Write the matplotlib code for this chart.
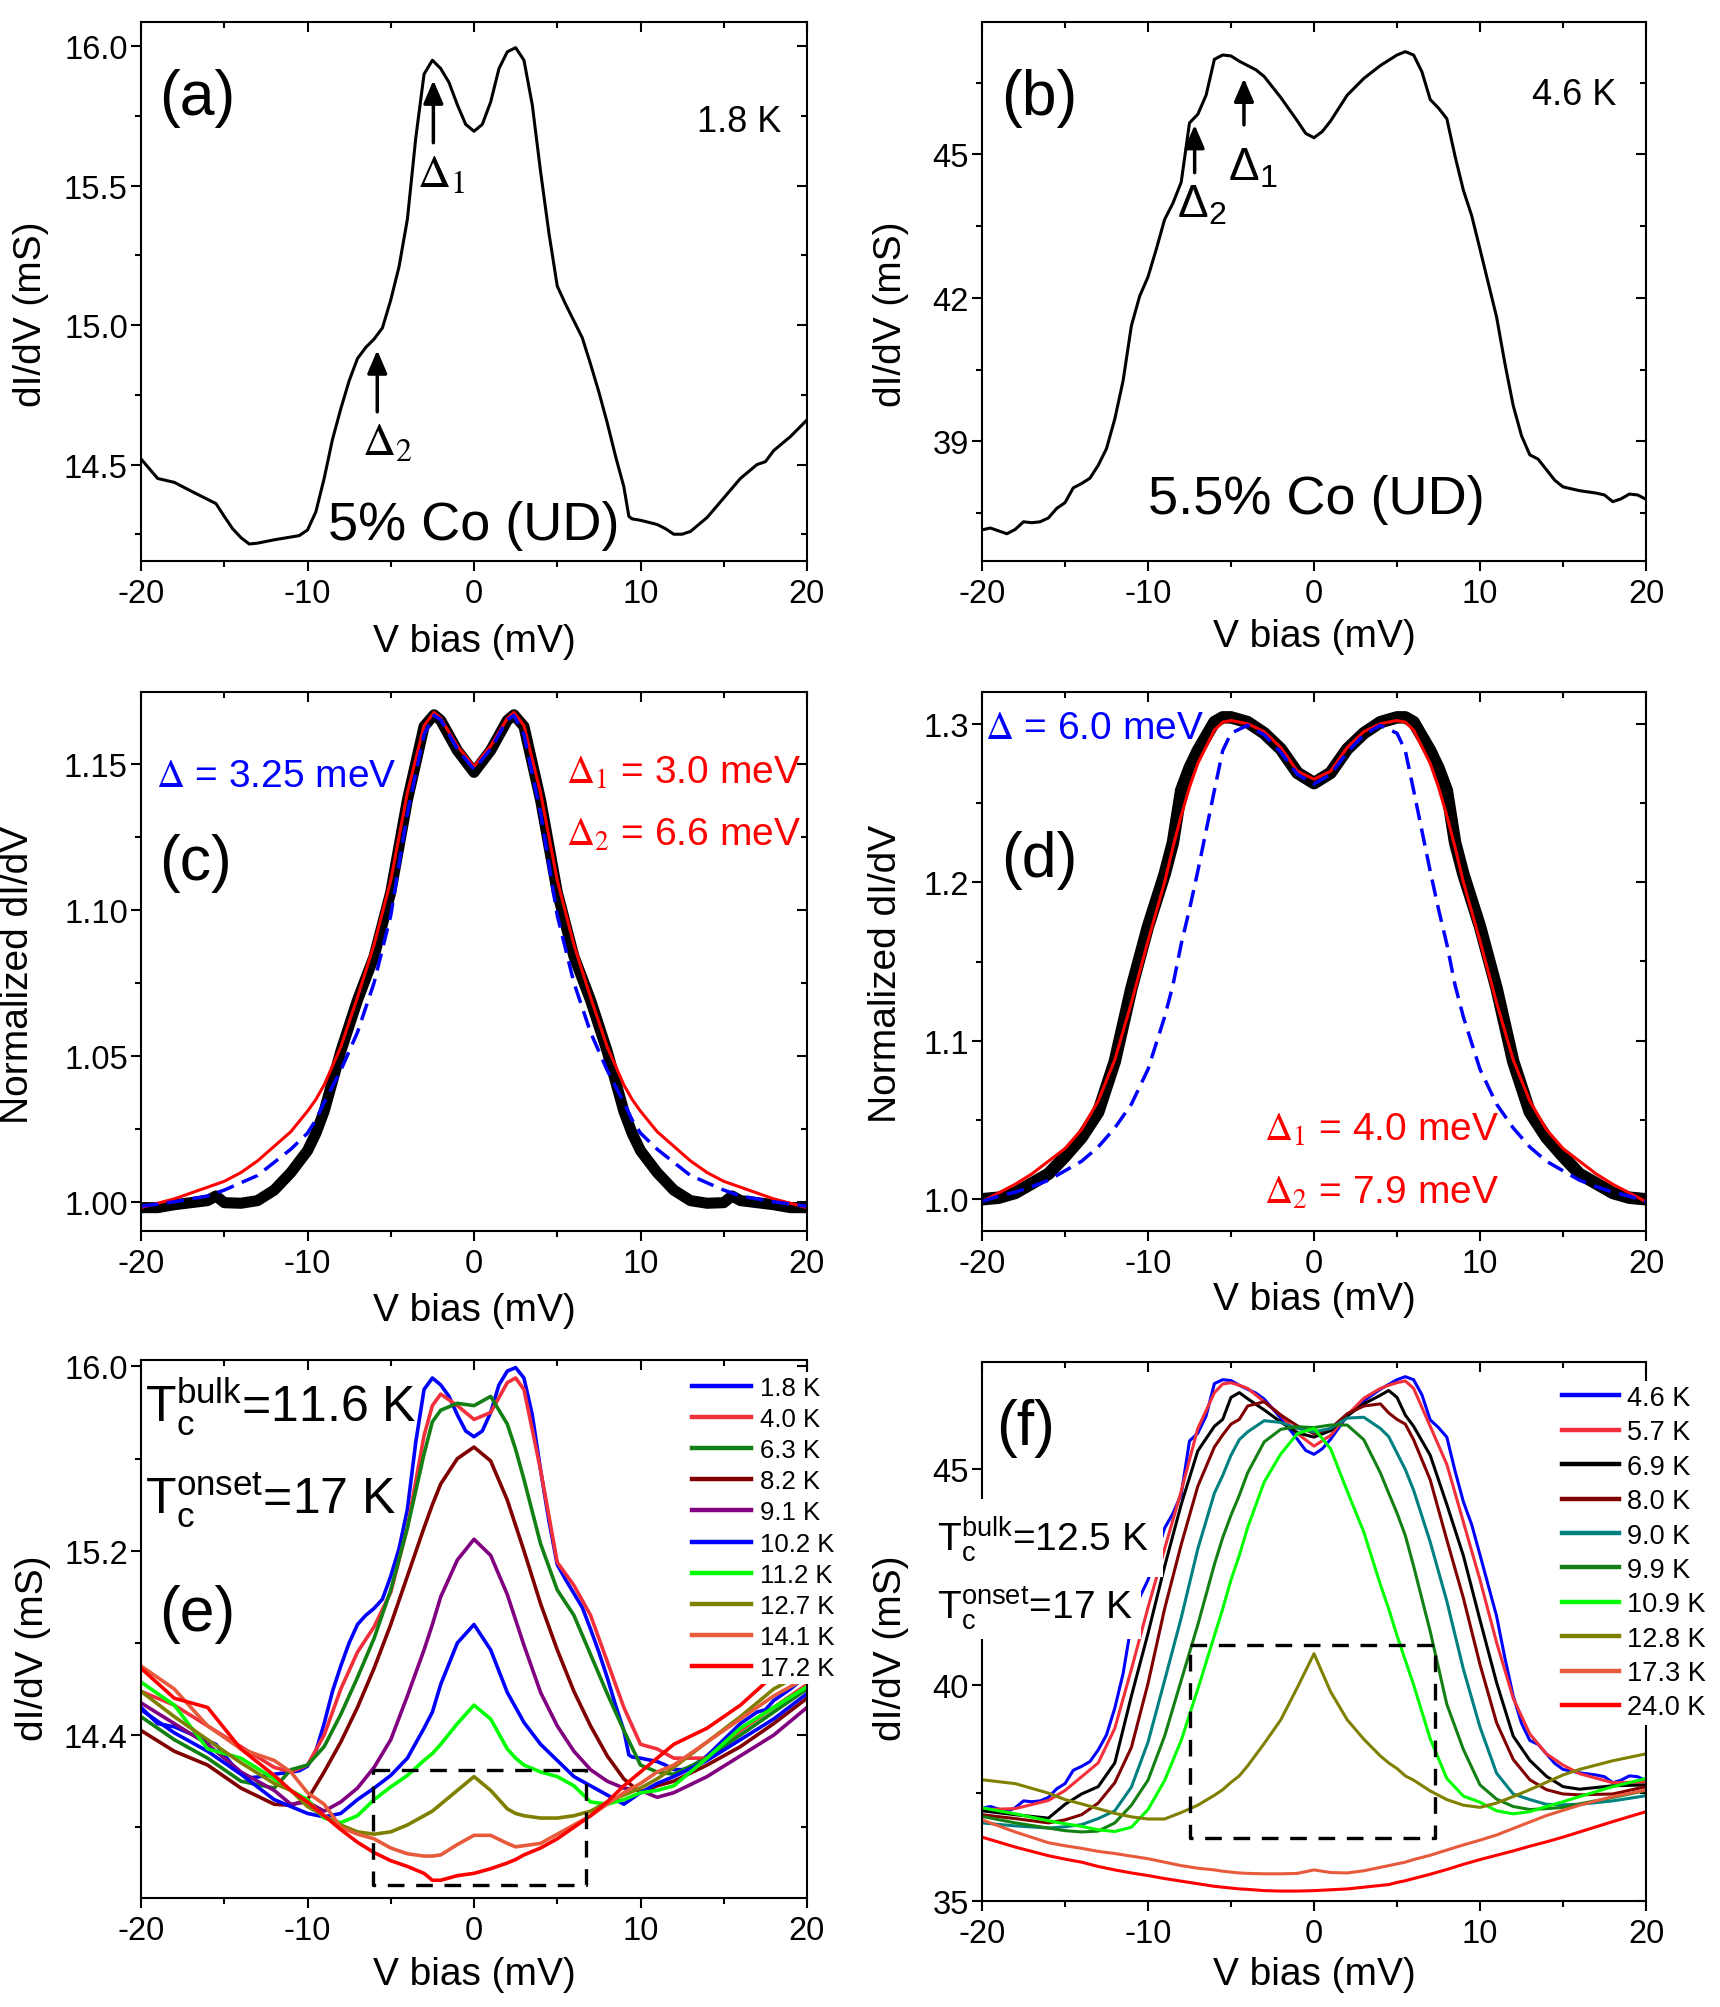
import matplotlib
matplotlib.use("Agg")
import matplotlib.pyplot as plt
from matplotlib.ticker import MultipleLocator, FormatStrFormatter

plt.rcParams["font.family"] = ["Liberation Sans", "DejaVu Sans"]
plt.rcParams["mathtext.fontset"] = "custom"
plt.rcParams["mathtext.rm"] = "Liberation Sans"
plt.rcParams["mathtext.it"] = "Liberation Sans:italic"
plt.rcParams["mathtext.bf"] = "Liberation Sans:bold"
plt.rcParams["axes.unicode_minus"] = False

# ---- (a) 5% Co, 1.8 K
a_x = [-20, -19, -18, -17, -16, -15.5, -15, -14.5, -14, -13.5, -13, -12, -11, -10.5, -10, -9.5, -9, -8.5, -8, -7.5,
       -7, -6.5, -6, -5.5, -5, -4.5, -4, -3.5, -3, -2.5, -2, -1.5, -1, -0.5, 0, 0.5, 1, 1.5, 2, 2.5,
       3, 3.5, 4, 4.5, 5, 5.5, 6, 6.5, 7, 7.5, 8, 8.5, 9, 9.3, 9.5, 10, 11, 11.5, 12, 12.5,
       13, 14, 15, 16, 17, 17.5, 18, 19, 20]
a_y = [14.52, 14.45, 14.436, 14.405, 14.375, 14.36, 14.314, 14.27, 14.238, 14.215, 14.218, 14.23, 14.24, 14.245,
       14.265, 14.33, 14.45, 14.59, 14.70, 14.80, 14.88, 14.92, 14.95, 14.99, 15.09, 15.21, 15.38, 15.67, 15.90,
       15.95, 15.92, 15.87, 15.79, 15.72, 15.695, 15.72, 15.80, 15.92, 15.98, 15.995, 15.95, 15.79, 15.55, 15.33,
       15.14, 15.075, 15.015, 14.955, 14.86, 14.76, 14.65, 14.53, 14.42, 14.314, 14.305, 14.30, 14.285, 14.27,
       14.25, 14.25, 14.26, 14.31, 14.38, 14.45, 14.50, 14.51, 14.55, 14.60, 14.66]

# ---- (b) 5.5% Co, 4.6 K
b_x = [-20, -19.5, -19, -18.5, -18, -17.5, -17, -16.5, -16, -15.5, -15, -14.5, -14, -13.5, -13, -12.5, -12, -11.5,
       -11, -10.5, -10, -9.5, -9, -8.5, -8, -7.5, -7, -6.5, -6, -5.5, -5, -4.5, -4, -3.5, -3, -2, -1, -0.5, 0, 0.5,
       1, 2, 3, 4, 5, 5.5, 6, 6.5, 7, 7.5, 8, 8.5, 9, 9.5, 10, 10.5, 11, 11.5, 12, 12.5, 13, 13.5, 14, 14.5, 15,
       16, 17, 17.5, 18, 18.5, 19, 19.5, 20]
b_y = [37.15, 37.19, 37.13, 37.07, 37.16, 37.32, 37.30, 37.32, 37.40, 37.60, 37.72, 38.03, 38.12, 38.23, 38.50,
       38.85, 39.47, 40.27, 41.42, 42.04, 42.44, 43.02, 43.64, 43.98, 44.42, 45.66, 45.84, 46.24, 46.99, 47.08,
       47.06, 46.95, 46.86, 46.77, 46.63, 46.19, 45.70, 45.44, 45.35, 45.48, 45.70, 46.24, 46.59, 46.86, 47.08,
       47.15, 47.08, 46.73, 46.15, 45.97, 45.75, 44.96, 44.25, 43.72, 43.02, 42.31, 41.60, 40.63, 39.75, 39.12,
       38.72, 38.63, 38.41, 38.19, 38.05, 37.97, 37.92, 37.88, 37.74, 37.80, 37.90, 37.88, 37.79]

# ---- (c) normalized 5% Co: data, two-gap fit, one-gap fit
c_x = [-20, -19, -18, -17, -16, -15.5, -15, -14, -13, -12, -11, -10, -9.5, -9, -8, -7, -6, -5, -4, -3, -2.4, -2, -1,
       0, 1, 2, 2.4, 3, 4, 5, 6, 7, 8, 9, 9.5, 10, 11, 12, 13, 14, 15, 15.5, 16, 17, 18, 19, 20]
c_data = [0.998, 0.998, 0.999, 0.9997, 1.0004, 1.002, 0.9997, 0.9995, 1.0004, 1.004, 1.010, 1.0175, 1.0234, 1.031,
          1.0515, 1.069, 1.084, 1.106, 1.1375, 1.1627, 1.1667, 1.1648, 1.1545, 1.147,
          1.1545, 1.1648, 1.1667, 1.1627, 1.1375, 1.106, 1.084, 1.069, 1.0515, 1.031, 1.0234, 1.0175, 1.010, 1.004,
          1.0004, 0.9995, 0.9997, 1.002, 1.0004, 0.9997, 0.999, 0.998, 0.998]
c_two_gap = [0.998, 0.9995, 1.001, 1.003, 1.005, 1.006, 1.007, 1.010, 1.014, 1.019, 1.024, 1.031, 1.035, 1.040,
             1.053, 1.070, 1.088, 1.110, 1.140, 1.163, 1.1675, 1.1655, 1.156, 1.149,
             1.156, 1.1655, 1.1675, 1.163, 1.140, 1.110, 1.088, 1.070, 1.053, 1.040, 1.035, 1.031, 1.024, 1.019,
             1.014, 1.010, 1.007, 1.006, 1.005, 1.003, 1.001, 0.9995, 0.998]
c_one_gap = [0.9985, 0.9992, 1.0, 1.001, 1.002, 1.003, 1.004, 1.0065, 1.009, 1.0135, 1.018, 1.0235, 1.028, 1.034,
             1.045, 1.058, 1.075, 1.098, 1.133, 1.160, 1.1665, 1.165, 1.155, 1.148,
             1.155, 1.165, 1.1665, 1.160, 1.133, 1.098, 1.075, 1.058, 1.045, 1.034, 1.028, 1.0235, 1.018, 1.0135,
             1.009, 1.0065, 1.004, 1.003, 1.002, 1.001, 1.0, 0.9992, 0.9985]

# ---- (d) normalized 5.5% Co
d_x = [-20, -19, -18, -17, -16, -15, -14, -13, -12, -11, -10, -9, -8.5, -8, -7.5, -7, -6, -5.5, -5, -4, -3, -2, -1,
       0, 1, 2, 3, 4, 5, 5.5, 6, 7, 7.5, 8, 8.5, 9, 10, 11, 12, 13, 14, 15, 16, 17, 18, 19, 20]
d_data = [1.0, 1.001, 1.004, 1.01, 1.016, 1.027, 1.039, 1.055, 1.087, 1.133, 1.172, 1.205, 1.225, 1.258, 1.272,
          1.283, 1.301, 1.304, 1.304, 1.301, 1.294, 1.284, 1.269, 1.2625,
          1.269, 1.284, 1.294, 1.301, 1.304, 1.304, 1.301, 1.283, 1.272, 1.258, 1.225, 1.205, 1.172, 1.133, 1.087,
          1.055, 1.039, 1.027, 1.016, 1.01, 1.004, 1.001, 1.0]
d_two_gap = [0.9985, 1.004, 1.0095, 1.016, 1.024, 1.032, 1.044, 1.062, 1.088, 1.124, 1.163, 1.200, 1.222, 1.242,
             1.260, 1.275, 1.296, 1.301, 1.302, 1.300, 1.295, 1.285, 1.270, 1.265,
             1.270, 1.285, 1.295, 1.300, 1.302, 1.301, 1.296, 1.275, 1.260, 1.242, 1.222, 1.200, 1.163, 1.124, 1.088,
             1.062, 1.044, 1.032, 1.024, 1.016, 1.0095, 1.004, 0.9985]
d_one_gap = [0.9986, 1.002, 1.0045, 1.008, 1.012, 1.018, 1.024, 1.033, 1.045, 1.060, 1.082, 1.115, 1.135, 1.161,
             1.183, 1.207, 1.258, 1.283, 1.294, 1.299, 1.293, 1.282, 1.268, 1.262,
             1.268, 1.282, 1.293, 1.299, 1.294, 1.283, 1.258, 1.207, 1.183, 1.161, 1.135, 1.115, 1.082, 1.060, 1.045,
             1.033, 1.024, 1.018, 1.012, 1.008, 1.0045, 1.002, 0.9986]

# ---- (e) 5% Co temperature series (1.8 K is the curve of panel a)
e_x = [-20, -18, -16, -14, -12, -11, -10, -9, -8, -7, -6, -5, -4, -3, -2.5, -2, -1, 0, 1, 2, 2.5, 3, 4, 5, 6, 7, 8,
       9, 10, 11, 12, 14, 16, 18, 20]
e_4p0 = [14.59, 14.53, 14.44, 14.35, 14.26, 14.24, 14.27, 14.40, 14.60, 14.76, 14.87, 15.02, 15.30, 15.70, 15.83,
         15.88, 15.83, 15.77, 15.80, 15.93, 15.95, 15.90, 15.55, 15.15, 15.05, 14.92, 14.72, 14.52, 14.36, 14.34,
         14.30, 14.30, 14.42, 14.52, 14.62]
e_6p3 = [14.48, 14.38, 14.30, 14.20, 14.17, 14.25, 14.27, 14.35, 14.49, 14.65, 14.82, 15.03, 15.30, 15.62, 15.76,
         15.81, 15.84, 15.83, 15.87, 15.75, 15.64, 15.51, 15.23, 15.03, 14.92, 14.75, 14.58, 14.42, 14.27, 14.24,
         14.23, 14.30, 14.40, 14.50, 14.60]
e_8p2 = [14.42, 14.33, 14.27, 14.17, 14.10, 14.095, 14.12, 14.24, 14.37, 14.52, 14.69, 14.88, 15.09, 15.30, 15.40,
         15.49, 15.60, 15.65, 15.59, 15.42, 15.31, 15.20, 14.97, 14.77, 14.59, 14.44, 14.31, 14.21, 14.15, 14.18,
         14.20, 14.27, 14.35, 14.45, 14.56]
e_9p1 = [14.54, 14.45, 14.36, 14.24, 14.16, 14.10, 14.11, 14.07, 14.11, 14.17, 14.26, 14.38, 14.57, 14.77, 14.88,
         15.00, 15.16, 15.25, 15.18, 15.01, 14.90, 14.79, 14.585, 14.44, 14.33, 14.25, 14.20, 14.17, 14.16, 14.13,
         14.15, 14.22, 14.31, 14.40, 14.52]
e_10p2 = [14.51, 14.41, 14.33, 14.23, 14.12, 14.09, 14.06, 14.045, 14.06, 14.12, 14.17, 14.225, 14.30, 14.43, 14.50,
          14.62, 14.80, 14.88, 14.77, 14.585, 14.52, 14.455, 14.36, 14.29, 14.22, 14.18, 14.14, 14.10, 14.15, 14.19,
          14.22, 14.29, 14.38, 14.47, 14.58]
e_11p2 = [14.63, 14.53, 14.34, 14.30, 14.21, 14.16, 14.12, 14.04, 14.02, 14.05, 14.12, 14.175, 14.225, 14.29, 14.32,
          14.36, 14.45, 14.53, 14.47, 14.34, 14.30, 14.27, 14.24, 14.22, 14.18, 14.11, 14.10, 14.12, 14.15, 14.16,
          14.18, 14.30, 14.43, 14.52, 14.61]
e_12p7 = [14.59, 14.48, 14.38, 14.28, 14.19, 14.16, 14.09, 14.05, 14.01, 13.98, 13.97, 13.98, 14.01, 14.05, 14.07,
          14.10, 14.16, 14.22, 14.16, 14.08, 14.06, 14.05, 14.04, 14.04, 14.05, 14.07, 14.11, 14.14, 14.17, 14.21,
          14.26, 14.37, 14.48, 14.60, 14.68]
e_14p1 = [14.70, 14.60, 14.44, 14.34, 14.29, 14.24, 14.15, 14.10, 14.00, 13.97, 13.95, 13.91, 13.885, 13.875, 13.875,
          13.88, 13.925, 13.965, 13.965, 13.93, 13.915, 13.92, 13.93, 13.97, 14.01, 14.05, 14.10, 14.15, 14.19, 14.24,
          14.27, 14.37, 14.47, 14.57, 14.65]
e_17p2 = [14.69, 14.56, 14.52, 14.34, 14.225, 14.16, 14.11, 14.05, 13.99, 13.935, 13.89, 13.855, 13.83, 13.80, 13.77,
          13.77, 13.79, 13.80, 13.82, 13.845, 13.86, 13.88, 13.91, 13.95, 14.00, 14.05, 14.11, 14.18, 14.24, 14.30,
          14.36, 14.43, 14.53, 14.66, 14.74]
e_labels = ["1.8 K", "4.0 K", "6.3 K", "8.2 K", "9.1 K", "10.2 K", "11.2 K", "12.7 K", "14.1 K", "17.2 K"]
e_colors = ["#0000ff", "#f2303c", "#138013", "#800000", "#800080", "#0000ff", "#00ff00", "#808000", "#e85a3c", "#ff0000"]

# ---- (f) 5.5% Co temperature series (4.6 K is the curve of panel b)
f_x = [-20, -18, -16, -15, -14, -13, -12, -11, -10, -9, -8, -7, -6, -5.5, -5, -4.5, -4, -3, -2, -1, 0, 1, 2, 3, 4,
       4.5, 5, 5.5, 6, 7, 8, 9, 10, 11, 12, 13, 14, 15, 16, 18, 20]
f_5p7 = [37.12, 37.14, 37.33, 37.56, 37.88, 38.20, 39.0, 40.37, 41.80, 43.16, 44.50, 45.95, 46.78, 46.98, 47.01,
         46.95, 46.88, 46.57, 46.26, 45.83, 45.54, 45.79, 46.26, 46.65, 46.88, 46.95, 47.01, 47.05, 46.88, 46.0,
         45.12, 43.78, 42.44, 40.99, 39.70, 38.87, 38.41, 38.15, 37.95, 37.74, 37.76]
f_6p9 = [37.09, 37.0, 36.92, 37.24, 37.48, 37.65, 38.2, 39.75, 41.2, 42.75, 44.19, 45.43, 46.0, 46.16, 46.67, 46.78,
         46.64, 46.38, 46.10, 45.85, 45.75, 45.90, 46.24, 46.52, 46.72, 46.83, 46.67, 46.26, 46.0, 45.33, 44.19, 43.0,
         41.51, 40.06, 38.82, 38.26, 37.89, 37.65, 37.59, 37.67, 37.69]
f_8p0 = [37.0, 36.91, 36.81, 36.88, 37.0, 37.27, 37.74, 38.56, 40.04, 41.77, 43.26, 44.61, 45.52, 45.80, 46.05, 46.16,
         46.47, 46.57, 46.26, 46.01, 45.83, 45.95, 46.29, 46.47, 46.52, 46.31, 46.16, 46.05, 45.69, 44.76, 43.37,
         42.02, 40.48, 39.13, 38.28, 37.81, 37.58, 37.48, 37.46, 37.48, 37.65]
f_9p0 = [36.81, 36.74, 36.69, 36.72, 36.77, 36.91, 37.09, 37.64, 38.68, 40.11, 41.56, 43.16, 44.45, 44.86, 45.33,
         45.69, 45.87, 46.13, 46.09, 45.95, 45.87, 45.95, 46.19, 46.21, 45.95, 45.76, 45.38, 45.0, 44.52, 43.32, 41.95,
         40.37, 39.03, 37.96, 37.48, 37.35, 37.24, 37.23, 37.24, 37.32, 37.44]
f_9p9 = [36.96, 36.81, 36.69, 36.63, 36.60, 36.62, 36.81, 37.22, 37.80, 38.82, 40.11, 41.4, 42.80, 43.42, 43.94, 44.40,
         44.92, 45.64, 45.93, 45.99, 45.97, 46.03, 46.03, 45.69, 44.92, 44.45, 43.99, 43.47, 42.76, 41.25, 39.56,
         38.51, 37.69, 37.36, 37.19, 37.12, 37.14, 37.17, 37.25, 37.40, 37.56]
f_10p9 = [37.16, 37.02, 36.86, 36.79, 36.73, 36.65, 36.61, 36.71, 37.12, 37.79, 38.72, 39.91, 41.15, 41.77, 42.44,
          43.01, 43.65, 44.71, 45.36, 45.83, 45.95, 45.48, 44.50, 43.55, 42.33, 41.77, 41.15, 40.58, 40.01, 38.76,
          37.84, 37.43, 37.29, 37.09, 37.02, 37.07, 37.19, 37.30, 37.42, 37.65, 37.84]
f_12p8 = [37.81, 37.72, 37.5, 37.35, 37.25, 37.14, 37.03, 36.95, 36.9, 36.9, 37.05, 37.22, 37.45, 37.58, 37.75, 37.9,
          38.13, 38.65, 39.2, 39.95, 40.73, 39.85, 39.2, 38.75, 38.36, 38.2, 38.07, 37.9, 37.8, 37.55, 37.35, 37.22,
          37.17, 37.27, 37.42, 37.58, 37.75, 37.92, 38.05, 38.25, 38.41]
f_17p3 = [36.88, 36.6, 36.35, 36.28, 36.22, 36.15, 36.1, 36.04, 35.98, 35.9, 35.82, 35.76, 35.72, 35.69, 35.67, 35.65,
          35.64, 35.63, 35.63, 35.64, 35.72, 35.66, 35.65, 35.7, 35.78, 35.82, 35.86, 35.9, 35.96, 36.06, 36.18, 36.3,
          36.41, 36.53, 36.68, 36.83, 36.98, 37.1, 37.22, 37.42, 37.57]
f_24p0 = [36.48, 36.25, 36.05, 35.97, 35.9, 35.8, 35.72, 35.65, 35.59, 35.52, 35.46, 35.4, 35.34, 35.32, 35.3, 35.28,
          35.27, 35.24, 35.23, 35.23, 35.24, 35.26, 35.28, 35.32, 35.36, 35.38, 35.43, 35.47, 35.52, 35.62, 35.73,
          35.85, 35.96, 36.06, 36.16, 36.27, 36.37, 36.48, 36.6, 36.84, 37.07]
f_labels = ["4.6 K", "5.7 K", "6.9 K", "8.0 K", "9.0 K", "9.9 K", "10.9 K", "12.8 K", "17.3 K", "24.0 K"]
f_colors = ["#0000ff", "#f2303c", "#000000", "#800000", "#008080", "#138013", "#00ff00", "#808000", "#e85a3c", "#ff0000"]

# dashed boxes and gap arrows
e_box_x = [-6.05, 6.7]
e_box_y = [13.75, 14.25]
f_box_x = [-7.5, 7.27]
f_box_y = [36.45, 40.93]
a_arrows = [(-2.44, 15.654, 15.878), (-5.81, 14.689, 14.91)]
b_arrows = [(-7.19, 44.62, 45.62), (-4.22, 45.62, 46.59)]

fig = plt.figure(figsize=(17.2, 20.08), dpi=100)
W, H = 1720.0, 2008.0


def box(l, t, r, b):
    return [l / W, 1 - b / H, (r - l) / W, (b - t) / H]


def frame(ax, ylim, yticks, yminor, yfmt, ylabel, xlab_y, ylab_x, ylab_y):
    ax.set_xlim(-20, 20)
    ax.set_ylim(ylim)
    ax.set_xticks([-20, -10, 0, 10, 20])
    ax.xaxis.set_minor_locator(MultipleLocator(5))
    ax.set_yticks(yticks)
    ax.yaxis.set_minor_locator(MultipleLocator(yminor))
    ax.yaxis.set_major_formatter(FormatStrFormatter(yfmt))
    ax.tick_params(which="both", direction="out", width=1.5, labelsize=23.5)
    ax.tick_params(which="major", length=7.5)
    ax.tick_params(which="minor", length=4)
    ax.tick_params(axis="x", pad=5)
    ax.tick_params(axis="y", pad=2)
    for sp in ax.spines.values():
        sp.set_linewidth(1.5)
    top = ax.secondary_xaxis("top")
    top.set_xticks([-20, -10, 0, 10, 20])
    top.xaxis.set_minor_locator(MultipleLocator(5))
    top.tick_params(axis="x", labeltop=False)
    right = ax.secondary_yaxis("right")
    right.set_yticks(yticks)
    right.yaxis.set_minor_locator(MultipleLocator(yminor))
    right.tick_params(axis="y", labelright=False)
    for sec in (top, right):
        sec.tick_params(which="both", direction="in", width=1.5)
        sec.tick_params(which="major", length=7.5)
        sec.tick_params(which="minor", length=4)
        for sp in sec.spines.values():
            sp.set_visible(False)
    ax.set_xlabel("V bias (mV)", fontsize=28)
    ax.xaxis.set_label_coords(0.5, xlab_y)
    ax.xaxis.label.set_va("center")
    ax.set_ylabel(ylabel, fontsize=28)
    ax.yaxis.set_label_coords(ylab_x, ylab_y)
    ax.yaxis.label.set_va("center")


def letter(ax, s, x, y):
    ax.text(x, y, s, transform=ax.transAxes, fontsize=45, ha="left", va="center")


ax_a = fig.add_axes(box(141, 23, 807, 562))
ax_b = fig.add_axes(box(982, 23, 1646, 562))
ax_c = fig.add_axes(box(141, 693, 807, 1232))
ax_d = fig.add_axes(box(982, 693, 1646, 1232))
ax_e = fig.add_axes(box(141, 1361, 807, 1899))
ax_f = fig.add_axes(box(982, 1363, 1646, 1902))

# (a)
ax_a.plot(a_x, a_y, color="k", lw=2.2)
frame(ax_a, (14.154, 16.087), [14.5, 15.0, 15.5, 16.0], 0.25, "%.1f", "dI/dV (mS)", -0.148, -0.165, 0.46)
letter(ax_a, "(a)", 0.027, 0.859)
ax_a.text(0.962, 0.798, "1.8 K", transform=ax_a.transAxes, fontsize=26, ha="right", va="baseline")
ax_a.text(0.5, 0.041, "5% Co (UD)", transform=ax_a.transAxes, fontsize=39, ha="center", va="baseline")
for xa, y0, y1 in a_arrows:
    ax_a.annotate("", xy=(xa, y1), xytext=(xa, y0),
                  arrowprops=dict(arrowstyle="-|>,head_length=0.7,head_width=0.3", color="k", lw=2.5,
                                  mutation_scale=20, shrinkA=0, shrinkB=0))
ax_a.text(-3.45, 15.62, r"$\Delta_1$", fontsize=33, ha="left", va="top", math_fontfamily="stix")
ax_a.text(-6.73, 14.66, r"$\Delta_2$", fontsize=33, ha="left", va="top", math_fontfamily="stix")

# (b)
ax_b.plot(b_x, b_y, color="k", lw=2.2)
frame(ax_b, (36.5, 47.77), [39, 42, 45], 1.5, "%d", "dI/dV (mS)", -0.14, -0.137, 0.46)
letter(ax_b, "(b)", 0.029, 0.859)
ax_b.text(0.955, 0.847, "4.6 K", transform=ax_b.transAxes, fontsize=26, ha="right", va="baseline")
ax_b.text(0.504, 0.089, "5.5% Co (UD)", transform=ax_b.transAxes, fontsize=39, ha="center", va="baseline")
for xa, y0, y1 in b_arrows:
    ax_b.annotate("", xy=(xa, y1), xytext=(xa, y0),
                  arrowprops=dict(arrowstyle="-|>,head_length=0.7,head_width=0.3", color="k", lw=2.5,
                                  mutation_scale=20, shrinkA=0, shrinkB=0))
ax_b.text(-8.25, 44.42, r"$\Delta_2$", fontsize=33, ha="left", va="top")
ax_b.text(-5.21, 45.19, r"$\Delta_1$", fontsize=33, ha="left", va="top")

# (c)
ax_c.plot(c_x, c_data, color="k", lw=8)
ax_c.plot(c_x, c_two_gap, color="#ff0000", lw=2.2)
ax_c.plot(c_x, c_one_gap, color="#0000ff", lw=2.5, ls=(0, (5, 2.5)))
frame(ax_c, (0.990, 1.1745), [1.00, 1.05, 1.10, 1.15], 0.025, "%.2f", "Normalized dI/dV", -0.147, -0.185, 0.477)
letter(ax_c, "(c)", 0.027, 0.683)
ax_c.text(0.0225, 0.825, r"$\Delta$ = 3.25 meV", transform=ax_c.transAxes, fontsize=28, color="#0000ff",
          ha="left", va="baseline", math_fontfamily="stix")
ax_c.text(0.991, 0.831, r"$\Delta_1$ = 3.0 meV", transform=ax_c.transAxes, fontsize=28, color="#ff0000",
          ha="right", va="baseline", math_fontfamily="stix")
ax_c.text(0.991, 0.716, r"$\Delta_2$ = 6.6 meV", transform=ax_c.transAxes, fontsize=28, color="#ff0000",
          ha="right", va="baseline", math_fontfamily="stix")

# (d)
ax_d.plot(d_x, d_data, color="k", lw=9)
ax_d.plot(d_x, d_two_gap, color="#ff0000", lw=2.2)
ax_d.plot(d_x, d_one_gap, color="#0000ff", lw=2.5, ls=(0, (5, 2.5)))
frame(ax_d, (0.98, 1.32), [1.0, 1.1, 1.2, 1.3], 0.05, "%.1f", "Normalized dI/dV", -0.126, -0.145, 0.479)
letter(ax_d, "(d)", 0.029, 0.69)
ax_d.text(0.0045, 0.914, r"$\Delta$ = 6.0 meV", transform=ax_d.transAxes, fontsize=28, color="#0000ff",
          ha="left", va="baseline", math_fontfamily="stix")
ax_d.text(0.779, 0.169, r"$\Delta_1$ = 4.0 meV", transform=ax_d.transAxes, fontsize=28, color="#ff0000",
          ha="right", va="baseline", math_fontfamily="stix")
ax_d.text(0.779, 0.0515, r"$\Delta_2$ = 7.9 meV", transform=ax_d.transAxes, fontsize=28, color="#ff0000",
          ha="right", va="baseline", math_fontfamily="stix")

# (e)
e_series = [(a_x, a_y), (e_x, e_4p0), (e_x, e_6p3), (e_x, e_8p2), (e_x, e_9p1), (e_x, e_10p2), (e_x, e_11p2),
            (e_x, e_12p7), (e_x, e_14p1), (e_x, e_17p2)]
for (xs, ys), lab, col in zip(e_series, e_labels, e_colors):
    ax_e.plot(xs, ys, color=col, lw=2.6, label=lab)
ax_e.plot([e_box_x[0], e_box_x[1], e_box_x[1], e_box_x[0], e_box_x[0]],
          [e_box_y[1], e_box_y[1], e_box_y[0], e_box_y[0], e_box_y[1]], color="k", lw=2.4, ls=(0, (5, 3.5)))
frame(ax_e, (13.693, 16.028), [14.4, 15.2, 16.0], 0.4, "%.1f", "dI/dV (mS)", -0.141, -0.162, 0.467)
letter(ax_e, "(e)", 0.027, 0.528)
ax_e.text(0.006, 0.885, r"T$_\mathrm{c}^\mathrm{bulk}$=11.6 K", transform=ax_e.transAxes, fontsize=36,
          ha="left", va="baseline")
ax_e.text(0.006, 0.714, r"T$_\mathrm{c}^\mathrm{onset}$=17 K", transform=ax_e.transAxes, fontsize=36,
          ha="left", va="baseline")
leg = ax_e.legend(loc="upper left", bbox_to_anchor=(0.822, 0.978), fontsize=18.5, handlelength=2.3,
                  handletextpad=0.33, labelspacing=0.28, borderpad=0.15, borderaxespad=0,
                  frameon=True, framealpha=1, facecolor="white", edgecolor="none")
for ln in leg.get_lines():
    ln.set_linewidth(3.2)

# (f)
f_series = [(b_x, b_y), (f_x, f_5p7), (f_x, f_6p9), (f_x, f_8p0), (f_x, f_9p0), (f_x, f_9p9), (f_x, f_10p9),
            (f_x, f_12p8), (f_x, f_17p3), (f_x, f_24p0)]
for (xs, ys), lab, col in zip(f_series, f_labels, f_colors):
    ax_f.plot(xs, ys, color=col, lw=2.2, label=lab)
ax_f.plot([f_box_x[0], f_box_x[1], f_box_x[1], f_box_x[0], f_box_x[0]],
          [f_box_y[1], f_box_y[1], f_box_y[0], f_box_y[0], f_box_y[1]], color="k", lw=2.4, ls=(0, (5, 3.5)))
frame(ax_f, (35, 47.49), [35, 40, 45], 2.5, "%d", "dI/dV (mS)", -0.135, -0.137, 0.47)
letter(ax_f, "(f)", 0.021, 0.878)
ax_f.text(-0.068, 0.651, r"T$_\mathrm{c}^\mathrm{bulk}$=12.5 K", transform=ax_f.transAxes, fontsize=28,
          ha="left", va="baseline", bbox=dict(facecolor="white", edgecolor="none", pad=10))
ax_f.text(-0.068, 0.525, r"T$_\mathrm{c}^\mathrm{onset}$=17 K", transform=ax_f.transAxes, fontsize=28,
          ha="left", va="baseline", bbox=dict(facecolor="white", edgecolor="none", pad=6))
leg = ax_f.legend(loc="upper left", bbox_to_anchor=(0.868, 0.965), fontsize=19.5, handlelength=2.1,
                  handletextpad=0.3, labelspacing=0.31, borderpad=0.15, borderaxespad=0,
                  frameon=True, framealpha=1, facecolor="white", edgecolor="none")
for ln in leg.get_lines():
    ln.set_linewidth(3.2)

fig.savefig("out.png", dpi=100)
